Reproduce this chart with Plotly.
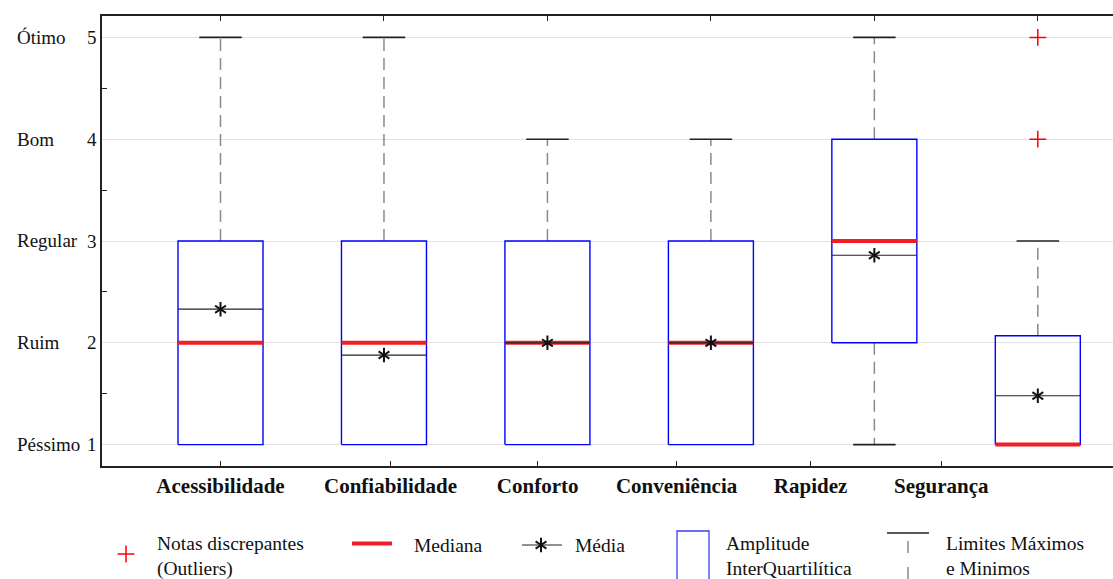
import plotly.graph_objects as go

# ---------------- data ----------------
categories = ["Acessibilidade", "Confiabilidade", "Conforto", "Conveniência", "Rapidez", "Segurança"]
q1 = [1, 1, 1, 1, 2, 1]
median = [2, 2, 2, 2, 3, 1]
q3 = [3, 3, 3, 3, 4, 2.07]
mean = [2.33, 1.88, 2.0, 2.0, 2.86, 1.48]
whisker_low = [1, 1, 1, 1, 1, 1]
whisker_high = [5, 5, 4, 4, 5, 3]
outlier_cat = ["Segurança", "Segurança"]
outlier_val = [4, 5]
y_tick_values = [1, 2, 3, 4, 5]
y_tick_words = ["Péssimo", "Ruim", "Regular", "Bom", "Ótimo"]
legend_labels = ["Notas discrepantes<br>(Outliers)", "Mediana", "Média",
                 "Amplitude<br>InterQuartilítica", "Limites Máximos<br>e Minimos"]

# ---------------- layout constants ----------------
W, H = 1113, 579
L, R, T, B = 102, 1113, 16, 466
FONT = "Liberation Serif"
BLUE = "#0000ff"
RED = "#ee1f26"
GREY = "#8a8a8a"
HW = 0.26      # half box width (category units)
CHW = 0.13     # half cap width
LABEL_POS = [0.0, 1.04, 1.94, 2.79, 3.61, 4.41]  # bottom label positions (as in reference)


def px(x):
    return x / W


def py(y):
    return 1 - y / H


fig = go.Figure()
idx = {c: i for i, c in enumerate(categories)}

for i, c in enumerate(categories):
    # whiskers (dashed) and caps
    if whisker_high[i] > q3[i]:
        fig.add_trace(go.Scatter(x=[i, i], y=[q3[i], whisker_high[i]], mode="lines",
                                 line=dict(color=GREY, width=1.5, dash="12px,7px"),
                                 hoverinfo="skip", showlegend=False))
        fig.add_trace(go.Scatter(x=[i - CHW, i + CHW], y=[whisker_high[i]] * 2, mode="lines",
                                 line=dict(color="#222222", width=1.6),
                                 hoverinfo="skip", showlegend=False))
    if whisker_low[i] < q1[i]:
        fig.add_trace(go.Scatter(x=[i, i], y=[q1[i], whisker_low[i]], mode="lines",
                                 line=dict(color=GREY, width=1.5, dash="12px,7px"),
                                 hoverinfo="skip", showlegend=False))
        fig.add_trace(go.Scatter(x=[i - CHW, i + CHW], y=[whisker_low[i]] * 2, mode="lines",
                                 line=dict(color="#222222", width=1.6),
                                 hoverinfo="skip", showlegend=False))
    # box
    fig.add_trace(go.Scatter(x=[i - HW, i + HW, i + HW, i - HW, i - HW],
                             y=[q1[i], q1[i], q3[i], q3[i], q1[i]], mode="lines",
                             line=dict(color=BLUE, width=1.4),
                             hoverinfo="skip", showlegend=False))
    # median
    fig.add_trace(go.Scatter(x=[i - HW, i + HW], y=[median[i]] * 2, mode="lines",
                             line=dict(color=RED, width=4),
                             hoverinfo="skip", showlegend=False))
    # mean line
    fig.add_trace(go.Scatter(x=[i - HW, i + HW], y=[mean[i]] * 2, mode="lines",
                             line=dict(color="#222222", width=1.2),
                             hoverinfo="skip", showlegend=False))

# mean asterisks (6-armed: y-up + y-down)
for sym in ["y-up-open", "y-down-open"]:
    fig.add_trace(go.Scatter(x=list(range(len(categories))), y=mean, mode="markers",
                             marker=dict(symbol=sym, size=9, color="#111111",
                                         line=dict(width=2, color="#111111")),
                             hoverinfo="skip", showlegend=False))

# outliers
fig.add_trace(go.Scatter(x=[idx[c] for c in outlier_cat], y=outlier_val, mode="markers",
                         marker=dict(symbol="cross-thin-open", size=12, color="red",
                                     line=dict(width=1.5, color="red")),
                         hoverinfo="skip", showlegend=False))

# dummy trace for the bottom label axis
fig.add_trace(go.Scatter(x=[0], y=[3], xaxis="x2", yaxis="y", mode="markers",
                         marker=dict(opacity=0), hoverinfo="skip", showlegend=False))

# legend glyphs (pixel coordinate overlay axis)
fig.add_trace(go.Scatter(x=[126], y=[554], xaxis="x3", yaxis="y3", mode="markers",
                         marker=dict(symbol="cross-thin-open", size=12, color="red",
                                     line=dict(width=1.5, color="red")),
                         hoverinfo="skip", showlegend=False))
fig.add_trace(go.Scatter(x=[522, 562], y=[545, 545], xaxis="x3", yaxis="y3", mode="lines",
                         line=dict(color="#222222", width=1.2),
                         hoverinfo="skip", showlegend=False))
for sym in ["y-up-open", "y-down-open"]:
    fig.add_trace(go.Scatter(x=[541], y=[545], xaxis="x3", yaxis="y3", mode="markers",
                             marker=dict(symbol=sym, size=9, color="#111111",
                                         line=dict(width=2, color="#111111")),
                             hoverinfo="skip", showlegend=False))

shapes = [
    dict(type="line", xref="paper", yref="paper", x0=px(352), x1=px(392), y0=py(543.5), y1=py(543.5),
         line=dict(color=RED, width=4)),
    dict(type="rect", xref="paper", yref="paper", x0=px(677), x1=px(709), y0=py(531), y1=py(590),
         line=dict(color="#3d3df2", width=1.3)),
    dict(type="line", xref="paper", yref="paper", x0=px(887), x1=px(929), y0=py(533), y1=py(533),
         line=dict(color="#222222", width=1.4)),
    dict(type="line", xref="paper", yref="paper", x0=px(908), x1=px(908), y0=py(541), y1=py(590),
         line=dict(color=GREY, width=1.5, dash="12px,14px")),
]

annotations = []
for v, w in zip(y_tick_values, y_tick_words):
    annotations.append(dict(x=px(15), y=v, xref="paper", yref="y", text=w, showarrow=False,
                            xanchor="left", yanchor="middle",
                            font=dict(family=FONT, size=19, color="#111111")))

legend_x = [155, 412, 573, 724, 944]
legend_y = [556, 545, 545, 556, 556]
for lx, ly, t in zip(legend_x, legend_y, legend_labels):
    annotations.append(dict(x=px(lx), y=py(ly), xref="paper", yref="paper", text=t, showarrow=False,
                            xanchor="left", yanchor="middle", align="left",
                            font=dict(family=FONT, size=19.5, color="#111111")))

x_range = [-0.725, 5.46]
fig.update_layout(
    width=W, height=H,
    margin=dict(l=0, r=0, t=0, b=0),
    paper_bgcolor="white", plot_bgcolor="rgba(0,0,0,0)",
    showlegend=False,
    shapes=shapes, annotations=annotations,
    xaxis=dict(domain=[px(L), 1], range=x_range, side="top", anchor="y",
               tickvals=list(range(len(categories))), showticklabels=False,
               ticks="inside", ticklen=5, tickcolor="#222222", tickwidth=1.3,
               showline=True, linecolor="#222222", linewidth=1.5,
               showgrid=False, zeroline=False, fixedrange=True),
    xaxis2=dict(overlaying="x", side="bottom", anchor="y", range=x_range,
                tickvals=LABEL_POS, ticktext=["<b>%s</b>" % c for c in categories],
                ticks="inside", ticklen=5, tickcolor="#222222", tickwidth=1.3,
                showline=True, linecolor="#222222", linewidth=1.5,
                showgrid=False, zeroline=False,
                tickfont=dict(family=FONT, size=21, color="#111111")),
    yaxis=dict(domain=[py(B), py(T)], range=[0.79, 5.21], anchor="x",
               tickvals=y_tick_values, ticktext=[str(v) for v in y_tick_values],
               ticks="", showline=True, linecolor="#222222", linewidth=1.5,
               showgrid=True, gridcolor="#e3e3e3", gridwidth=1, zeroline=False,
               minor=dict(tickvals=[1.5, 2.5, 3.5, 4.5], ticks="inside", ticklen=5,
                          tickcolor="#222222", tickwidth=1.3, showgrid=False),
               tickfont=dict(family=FONT, size=19, color="#111111")),
    xaxis3=dict(domain=[0, 1], range=[0, W], anchor="y3", visible=False, fixedrange=True),
    yaxis3=dict(domain=[0, 1], range=[H, 0], anchor="x3", visible=False, fixedrange=True),
)

fig.write_html("out.html", config={"displayModeBar": False},
               post_script="document.body.style.margin='0';document.body.style.overflow='hidden';")
